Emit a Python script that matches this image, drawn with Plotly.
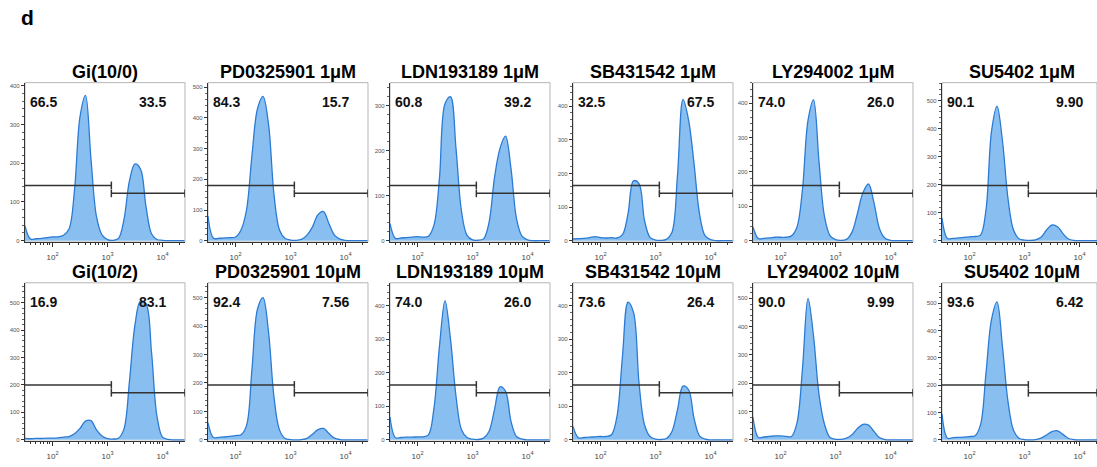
import plotly.graph_objects as go

# ---------------- data ----------------
LOG_BINS = [1.5, 1.6, 1.7, 1.8, 1.9, 2.0, 2.1, 2.2, 2.3, 2.4,
            2.5, 2.6, 2.7, 2.8, 2.9, 3.0, 3.1, 3.2, 3.3, 3.4,
            3.5, 3.6, 3.7, 3.8, 3.9, 4.0, 4.1, 4.2, 4.3, 4.4]

TITLES = ["Gi(10/0)", "PD0325901 1μM", "LDN193189 1μM", "SB431542 1μM", "LY294002 1μM", "SU5402 1μM",
          "Gi(10/2)", "PD0325901 10μM", "LDN193189 10μM", "SB431542 10μM", "LY294002 10μM", "SU5402 10μM"]
LEFT_PCT = ["66.5", "84.3", "60.8", "32.5", "74.0", "90.1", "16.9", "92.4", "74.0", "73.6", "90.0", "93.6"]
RIGHT_PCT = ["33.5", "15.7", "39.2", "67.5", "26.0", "9.90", "83.1", "7.56", "26.0", "26.4", "9.99", "6.42"]

GI_10_0 = [38, 4, 5, 6, 8, 10, 10, 14, 30, 130, 320, 375, 210, 62, 15, 3, 1, 6, 55, 155, 198, 185, 88, 18, 3, 1, 0, 0, 0, 0]
PD_1 = [80, 8, 8, 9, 10, 12, 35, 100, 280, 430, 470, 380, 150, 35, 8, 2, 1, 4, 18, 45, 85, 95, 55, 18, 5, 1, 0, 0, 0, 0]
LDN_1 = [38, 5, 6, 7, 8, 9, 8, 10, 35, 140, 304, 320, 205, 65, 12, 2, 1, 4, 40, 140, 205, 232, 160, 49, 10, 2, 0, 0, 0, 0]
SB_1 = [5, 6, 7, 9, 12, 9, 8, 9, 8, 18, 80, 178, 170, 60, 10, 2, 1, 4, 25, 195, 420, 360, 230, 80, 15, 3, 0, 0, 0, 0]
LY_1 = [40, 6, 7, 8, 10, 10, 10, 14, 40, 150, 350, 410, 230, 70, 15, 3, 1, 4, 25, 80, 140, 165, 110, 35, 7, 1, 0, 0, 0, 0]
SU_1 = [80, 8, 8, 10, 12, 14, 15, 20, 110, 390, 480, 355, 150, 38, 7, 2, 1, 3, 12, 38, 56, 50, 25, 6, 1, 0, 0, 0, 0, 0]
GI_10_2 = [5, 4, 5, 5, 6, 6, 7, 10, 12, 22, 42, 68, 70, 36, 14, 4, 3, 6, 40, 215, 420, 505, 495, 320, 85, 10, 2, 0, 0, 0]
PD_10 = [60, 8, 9, 10, 12, 15, 18, 50, 250, 460, 500, 380, 150, 35, 5, 1, 0, 1, 5, 20, 36, 40, 22, 6, 1, 0, 0, 0, 0, 0]
LDN_10 = [68, 6, 7, 8, 8, 9, 9, 15, 95, 280, 415, 300, 130, 30, 7, 2, 1, 5, 25, 90, 158, 145, 55, 10, 2, 0, 0, 0, 0, 0]
SB_10 = [40, 6, 7, 8, 9, 10, 10, 15, 70, 250, 410, 380, 170, 45, 10, 2, 1, 4, 25, 90, 160, 150, 65, 12, 2, 0, 0, 0, 0, 0]
LY_10 = [80, 8, 10, 12, 14, 14, 12, 12, 60, 253, 500, 368, 160, 55, 8, 2, 2, 6, 18, 40, 55, 52, 30, 8, 1, 0, 0, 0, 0, 0]
SU_10 = [95, 6, 8, 9, 10, 12, 15, 55, 245, 440, 505, 340, 140, 35, 6, 1, 0, 1, 6, 18, 30, 33, 20, 5, 1, 0, 0, 0, 0, 0]

COUNTS = [GI_10_0, PD_1, LDN_1, SB_1, LY_1, SU_1,
          GI_10_2, PD_10, LDN_10, SB_10, LY_10, SU_10]
Y_MAX = [408, 515, 351, 470, 460, 564, 572, 552, 468, 468, 555, 575]
GATE_SPLIT = 1175  # boundary between the two gates (fluorescence units)

X_TICKS = [100, 1000, 10000]
X_TICK_TEXT = ["10<sup>2</sup>", "10<sup>3</sup>", "10<sup>4</sup>"]
X_MINOR = [40, 50, 60, 70, 80, 90, 200, 300, 400, 500, 600, 700, 800, 900,
           2000, 3000, 4000, 5000, 6000, 7000, 8000, 9000, 20000]

# ---------------- layout geometry / style ----------------
W, H = 1097, 467
COL_LEFT = [25, 208, 390, 573, 753, 942]
PANEL_W = 160
ROW_TOP = [83, 284]
ROW_BOTTOM = [243, 443]
PX_PER_DECADE = 55
X_LO = 1.5
FONT = "Liberation Sans, Arial, sans-serif"
LINE_BLUE = "#2b7bd4"
FILL_BLUE = "#88bff0"
GATE_COLOR = "#333333"
GATE_LEFT_Y = 0.355
GATE_RIGHT_Y = 0.305
CAP = 0.024

x_values = [10 ** b for b in LOG_BINS]

fig = go.Figure()
layout = dict(
    width=W, height=H, margin=dict(l=0, r=0, t=0, b=0),
    paper_bgcolor="white", plot_bgcolor="white",
    showlegend=False, font=dict(family=FONT, color="#000"),
)
shapes = []
annotations = []

for i in range(12):
    r, c = divmod(i, 6)
    left = COL_LEFT[c]
    right = min(left + PANEL_W, W)
    x_hi = X_LO + (right - left) / PX_PER_DECADE
    suf = "" if i == 0 else str(i + 1)
    xname, yname = "x" + suf, "y" + suf

    fig.add_trace(go.Scatter(
        x=x_values, y=COUNTS[i], mode="lines",
        line=dict(shape="spline", smoothing=1.0, color=LINE_BLUE, width=1.3),
        fill="tozeroy", fillcolor=FILL_BLUE,
        xaxis=xname, yaxis=yname, hoverinfo="skip",
    ))

    layout["xaxis" + suf] = dict(
        domain=[left / W, right / W], type="log", range=[X_LO, x_hi],
        anchor=yname, tickmode="array", tickvals=X_TICKS, ticktext=X_TICK_TEXT,
        ticks="outside", ticklen=4, tickwidth=1, tickcolor="#333",
        showline=True, linecolor="#333", linewidth=1.2,
        showgrid=False, zeroline=False,
        tickfont=dict(size=8, color="#444", family=FONT),
        ticklabelstandoff=3,
        minor=dict(tickmode="array", tickvals=X_MINOR, ticks="outside",
                   ticklen=2, tickcolor="#333", showgrid=False),
    )
    ymax = Y_MAX[i]
    layout["yaxis" + suf] = dict(
        domain=[1 - ROW_BOTTOM[r] / H, 1 - ROW_TOP[r] / H],
        range=[-0.008 * ymax, ymax], anchor=xname,
        tick0=0, dtick=100, ticks="outside", ticklen=3, tickwidth=1, tickcolor="#333",
        showline=True, linecolor="#333", linewidth=1.2,
        showgrid=False, zeroline=False,
        tickfont=dict(size=6, color="#555", family=FONT),
        minor=dict(dtick=20, ticks="outside", ticklen=1.5, tickcolor="#666", showgrid=False),
    )

    # frame
    shapes.append(dict(type="rect", xref=xname + " domain", yref=yname + " domain",
                       x0=0, x1=1, y0=0, y1=1, line=dict(color="#b5b5b5", width=1),
                       layer="below"))
    # gates
    gl = dict(color=GATE_COLOR, width=1.5)
    yd = yname + " domain"
    shapes += [
        dict(type="line", xref=xname, yref=yd, x0=10 ** X_LO, x1=GATE_SPLIT,
             y0=GATE_LEFT_Y, y1=GATE_LEFT_Y, line=gl),
        dict(type="line", xref=xname, yref=yd, x0=GATE_SPLIT, x1=GATE_SPLIT,
             y0=GATE_LEFT_Y - CAP, y1=GATE_LEFT_Y + CAP, line=gl),
        dict(type="line", xref=xname, yref=yd, x0=GATE_SPLIT, x1=10 ** x_hi,
             y0=GATE_RIGHT_Y, y1=GATE_RIGHT_Y, line=gl),
        dict(type="line", xref=xname, yref=yd, x0=GATE_SPLIT, x1=GATE_SPLIT,
             y0=GATE_RIGHT_Y - CAP, y1=GATE_RIGHT_Y + CAP, line=gl),
        dict(type="line", xref=xname, yref=yd, x0=10 ** x_hi, x1=10 ** x_hi,
             y0=GATE_RIGHT_Y - CAP, y1=GATE_RIGHT_Y + CAP, line=gl),
    ]

    top = ROW_TOP[r]
    annotations.append(dict(text="<b>" + TITLES[i] + "</b>", xref="paper", yref="paper",
                            x=(left + 80) / W, y=1 - (top - 11) / H,
                            xanchor="center", yanchor="middle", showarrow=False,
                            font=dict(size=18, color="#000", family=FONT)))
    annotations.append(dict(text="<b>" + LEFT_PCT[i] + "</b>", xref="paper", yref="paper",
                            x=(left + 3) / W, y=1 - (top + 19) / H,
                            xanchor="left", yanchor="middle", showarrow=False,
                            font=dict(size=14, color="#111", family=FONT)))
    annotations.append(dict(text="<b>" + RIGHT_PCT[i] + "</b>", xref="paper", yref="paper",
                            x=(left + 143) / W, y=1 - (top + 19) / H,
                            xanchor="right", yanchor="middle", showarrow=False,
                            font=dict(size=14, color="#111", family=FONT)))

annotations.append(dict(text="<b>d</b>", xref="paper", yref="paper",
                        x=19 / W, y=1 - 18 / H, xanchor="left", yanchor="middle",
                        showarrow=False, font=dict(size=21, color="#000", family=FONT)))

layout["shapes"] = shapes
layout["annotations"] = annotations
fig.update_layout(**layout)
fig.write_html("out.html")
